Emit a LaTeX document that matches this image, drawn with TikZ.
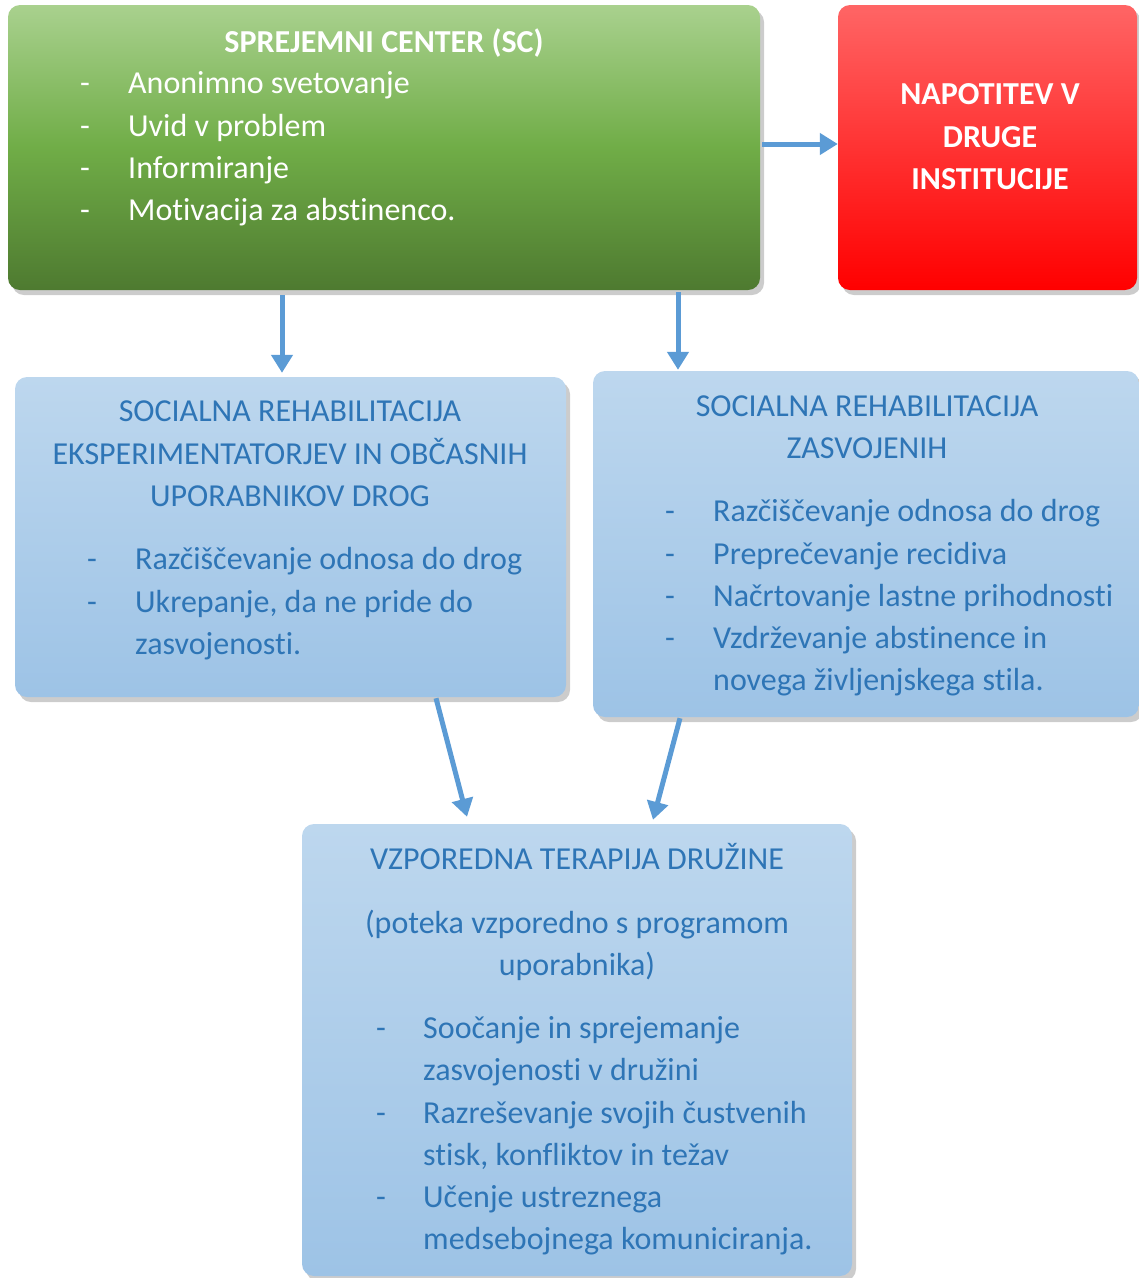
\documentclass[tikz,border=0pt]{standalone}
\usepackage{fontspec}
\setmainfont{Carlito}[Ligatures=CommonOff]
\usetikzlibrary{arrows.meta,shadows}
\definecolor{txtblue}{HTML}{2E75B6}
\definecolor{arrblue}{HTML}{5B9BD5}
\definecolor{boxtop}{HTML}{BDD7EE}
\definecolor{boxbot}{HTML}{9DC3E6}
\definecolor{greentop}{HTML}{A9D18E}
\definecolor{greenmid}{HTML}{70AD47}
\definecolor{greenbot}{HTML}{4E7A30}
\definecolor{redtop}{HTML}{FF6565}
\definecolor{redbot}{HTML}{FF0000}
\tikzset{
  box/.style={rectangle, rounded corners=12pt, inner sep=0pt,
    drop shadow={shadow xshift=4pt, shadow yshift=-5pt, opacity=0.2, fill=black}},
  bluebox/.style={box, top color=boxtop, bottom color=boxbot},
  greenbox/.style={box, top color=greentop, bottom color=greenbot, middle color=greenmid},
  redbox/.style={box, top color=redtop, bottom color=redbot},
  arr/.style={draw=arrblue, line width=5pt, -{Triangle[length=18pt,width=21pt]}},
  wt/.style={anchor=base, inner sep=0pt, text=white, font=\fontsize{32}{38}\selectfont},
  wtb/.style={wt, font=\fontsize{32}{38}\selectfont\bfseries},
  bt/.style={anchor=base, inner sep=0pt, text=txtblue, font=\fontsize{32}{38}\selectfont},
  btl/.style={bt, anchor=base west},
  wtl/.style={wt, anchor=base west},
}
\begin{document}
\begin{tikzpicture}[x=1pt,y=-1pt]
\useasboundingbox (0,0) rectangle (1139,1278);
% boxes
\node[greenbox, minimum width=752pt, minimum height=285pt] (green) at (384,147.5) {};
\node[redbox, minimum width=299pt, minimum height=285pt] (red) at (987.5,147.5) {};
\node[bluebox, minimum width=551pt, minimum height=320pt] (left) at (290.5,537) {};
\node[bluebox, minimum width=546pt, minimum height=346pt] (right) at (866,544) {};
\node[bluebox, minimum width=550pt, minimum height=452pt] (bot) at (577,1050) {};
% green text
\node[wtb] (g0) at (384,52) {SPREJEMNI CENTER (SC)};
\node[wtl] (gd1) at (80,93) {-};
\node[wtl] (g1) at (128,93) {Anonimno svetovanje};
\node[wtl] (gd2) at (80,136) {-};
\node[wtl] (g2) at (128,136) {Uvid v problem};
\node[wtl] (gd3) at (80,178) {-};
\node[wtl] (g3) at (128,178) {Informiranje};
\node[wtl] (gd4) at (80,220) {-};
\node[wtl] (g4) at (128,220) {Motivacija za abstinenco.};
% red text
\node[wtb] (r1) at (990,104) {NAPOTITEV V};
\node[wtb] (r2) at (990,147) {DRUGE};
\node[wtb] (r3) at (990,189) {INSTITUCIJE};
% left text
\node[bt] (l1) at (290,421) {SOCIALNA REHABILITACIJA};
\node[bt] (l2) at (290,464) {EKSPERIMENTATORJEV IN OBČASNIH};
\node[bt] (l3) at (290,506) {UPORABNIKOV DROG};
\node[btl] (ld1) at (87,569) {-};
\node[btl] (l4) at (135,569) {Razčiščevanje odnosa do drog};
\node[btl] (ld2) at (87,612) {-};
\node[btl] (l5) at (135,612) {Ukrepanje, da ne pride do};
\node[btl] (l6) at (135,654) {zasvojenosti.};
% right text
\node[bt] (rr1) at (867,416) {SOCIALNA REHABILITACIJA};
\node[bt] (rr2) at (867,458) {ZASVOJENIH};
\node[btl] (rd1) at (665,521) {-};
\node[btl] (rr3) at (713,521) {Razčiščevanje odnosa do drog};
\node[btl] (rd2) at (665,564) {-};
\node[btl] (rr4) at (713,564) {Preprečevanje recidiva};
\node[btl] (rd3) at (665,606) {-};
\node[btl] (rr5) at (713,606) {Načrtovanje lastne prihodnosti};
\node[btl] (rd4) at (665,648) {-};
\node[btl] (rr6) at (713,648) {Vzdrževanje abstinence in};
\node[btl] (rr7) at (713,690) {novega življenjskega stila.};
% bottom text
\node[bt] (b1) at (577,869) {VZPOREDNA TERAPIJA DRUŽINE};
\node[bt] (b2) at (577,933) {(poteka vzporedno s programom};
\node[bt] (b3) at (577,975) {uporabnika)};
\node[btl] (bd1) at (376,1038) {-};
\node[btl] (b4) at (423,1038) {Soočanje in sprejemanje};
\node[btl] (b5) at (423,1080) {zasvojenosti v družini};
\node[btl] (bd2) at (376,1123) {-};
\node[btl] (b6) at (423,1123) {Razreševanje svojih čustvenih};
\node[btl] (b7) at (423,1165) {stisk, konfliktov in težav};
\node[btl] (bd3) at (376,1207) {-};
\node[btl] (b8) at (423,1207) {Učenje ustreznega};
\node[btl] (b9) at (423,1249) {medsebojnega komuniciranja.};
% arrows
\draw[arr] ([xshift=2pt,yshift=3.5pt]green.east) -- ([yshift=3.5pt]red.west);
\draw[arr] ([xshift=-102pt,yshift=-5pt]green.south) -- ([xshift=-8.5pt,yshift=4pt]left.north);
\draw[arr] ([xshift=294pt,yshift=-2pt]green.south) -- ([xshift=-188pt,yshift=1pt]right.north);
\draw[arr] ([xshift=145.5pt,yshift=-1pt]left.south) -- ([xshift=-110pt,yshift=7pt]bot.north);
\draw[arr] ([xshift=-186pt,yshift=-1pt]right.south) -- ([xshift=76pt,yshift=4pt]bot.north);
\end{tikzpicture}
\end{document}
